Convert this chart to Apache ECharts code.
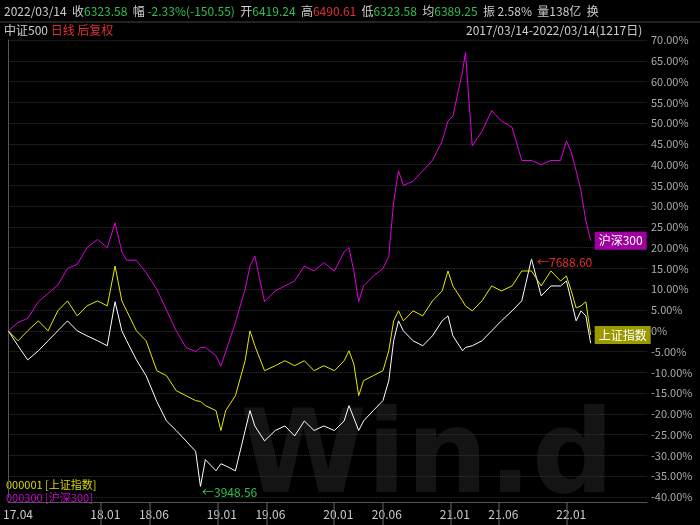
<!DOCTYPE html>
<html><head><meta charset="utf-8">
<script src="https://cdn.jsdelivr.net/npm/echarts@6/dist/echarts.min.js"></script>
<style>html,body{margin:0;padding:0;background:#000}#c{width:700px;height:525px}</style>
</head><body><div id="c"></div>
<script>
// months since 2017-03-14
const months = [0,1.0,2.0,3.1,4.1,5.1,6.1,7.1,8.1,9.2,10.2,11.0,11.7,12.2,13.2,14.2,15.3,16.3,17.3,18.3,19.3,19.8,20.3,21.4,21.9,22.4,23.4,24.4,24.9,25.4,26.4,27.5,28.5,29.5,30.5,31.5,32.5,33.6,34.6,35.1,35.6,36.1,36.6,37.6,38.6,39.2,39.7,40.2,40.7,41.7,42.7,43.7,44.7,45.3,45.8,46.8,47.1,47.8,48.8,49.8,50.8,51.9,52.9,53.9,54.9,55.9,56.9,57.5,58.0,58.5,59.0,59.5,60.0];
const hs300 = [0,2,3,7,9,11,15,16,20,22,20,26,19,17,17,14,10,5,0,-4,-5,-4,-4,-6,-8.5,-5,2,10,15.6,18,7,9.6,10.8,12,15.6,14.4,16.4,14.4,19,20,14.4,7,10.8,13.2,15,18,31,38.5,35,36,38.5,41,45.7,50.5,51.7,62.5,67,44.5,48,53,50.5,49,41,41,40,41,41,45.7,43,38.5,33.7,26.5,21.7];
const sh000001 = [0,-2.4,0,2.4,0,4.8,7.2,3.6,6,7.2,6,15.6,7.2,4.8,0,-2.4,-9.6,-10.8,-14.4,-15.6,-16.8,-17,-18,-19.2,-24,-19.2,-15.6,-7.2,0,-3.6,-9.6,-8.4,-7.2,-8.4,-7.2,-9.6,-8.4,-9.6,-7.2,-4.8,-8,-15.6,-12,-10.8,-9.6,-4.8,2.4,4.8,2.4,4.8,3.6,7.2,9.6,14.4,10.8,7.2,6,4.8,7.2,10.8,9.6,10.8,14.4,14.4,10.8,14.4,12,13.2,9.6,5.5,6,7,-1];
const zz500 = [0,-3.6,-7,-4.8,-2.4,0,2.4,0,-1.2,-2.4,-3.6,7,0,-2.4,-7,-10.8,-17,-21.7,-24,-26.5,-29,-37.5,-31,-33.7,-32,-32.5,-33.7,-24,-19.2,-22.9,-26.5,-24,-22.9,-25.3,-21.7,-24,-22.9,-24,-21.7,-18,-21,-24,-21.7,-19.2,-16.8,-12,-2.4,2.4,0,-2.4,-3.6,-1.2,2.4,3.6,-1.2,-4.8,-4,-3.6,-2.4,0,2.4,4.8,7.2,17.3,8.4,10.8,10.8,12,7.2,2.4,4.8,3.6,-3];
const tickMonths = [1,10,15,22,27,34,39,46,51,58];
const tickLabels = ['17.04','18.01','18.06','19.01','19.06','20.01','20.06','21.01','21.06','22.01'];
const lowIdx = 21, lowText = '3948.56', highIdx = 63, highText = '7688.60';

const pairs = a => months.map((m,i)=>[m,a[i]]);
const F = '"Noto Sans CJK SC", "DejaVu Sans", sans-serif';
const chart = echarts.init(document.getElementById('c'));
const graphics = [
  {type:'text',left:240,top:405,z:0,style:{text:'Win.d',fill:'#141414',font:'bold 115px "DejaVu Sans"'}},
  {type:'line',shape:{x1:0,y1:22,x2:700,y2:22},style:{stroke:'#444'}},
  {type:'text',left:4,top:5,style:{rich:{
    w:{fill:'#ccc',font:'12px '+F},g:{fill:'#2fbf4f',font:'12px '+F},r:{fill:'#e03030',font:'12px '+F}},
    text:'{w|2022/03/14  收}{g|6323.58}{w|  幅 }{g|-2.33%(-150.55)}{w|  开}{g|6419.24}{w|  高}{r|6490.61}{w|  低}{g|6323.58}{w|  均}{g|6389.25}{w|  振 2.58%  量138亿  换}'}},
  {type:'text',left:4,top:24,style:{rich:{w:{fill:'#ccc',font:'12px '+F},r:{fill:'#e03030',font:'12px '+F}},text:'{w|中证500 }{r|日线 后复权}'}},
  {type:'text',left:466,top:24,style:{text:'2017/03/14-2022/03/14(1217日)',fill:'#ccc',font:'12px '+F}},
  {type:'text',left:6,top:479,style:{text:'000001 [上证指数]',fill:'#d8d800',font:'11px '+F}},
  {type:'text',left:6,top:492,style:{text:'000300 [沪深300]',fill:'#d000d0',font:'11px '+F}}
];
const option = {
  backgroundColor:'#000',
  animation:false,
  grid:{left:0,right:53,top:40,bottom:28},
  xAxis:{type:'value',min:0,max:65.8,offset:5,
    axisLine:{show:true,onZero:false,lineStyle:{color:'#555'}},
    splitLine:{show:false},axisTick:{show:false},
    axisLabel:{customValues:tickMonths,color:'#ccc',fontFamily:F,fontSize:12,margin:6,
      formatter:v=>tickLabels[tickMonths.indexOf(v)]||''}},
  yAxis:{type:'value',position:'right',min:-40,max:70,interval:5,
    axisLine:{show:true,lineStyle:{color:'#555'}},axisTick:{show:false},
    axisLabel:{color:'#aaa',fontFamily:F,fontSize:11,margin:4,formatter:v=>v===0?'0%':v.toFixed(2)+'%'},
    splitLine:{lineStyle:{color:'#333',type:'dotted'}}},
  graphic:graphics,
  series:[
    {type:'line',data:pairs(zz500),symbol:'none',lineStyle:{color:'#fff',width:1},z:3,
      markPoint:{symbol:'circle',symbolSize:1,data:[
        {coord:[months[lowIdx],zz500[lowIdx]],label:{show:true,position:'right',formatter:'←'+lowText,color:'#2fbf4f',fontSize:12,fontFamily:F,offset:[-4,6]}},
        {coord:[months[highIdx],zz500[highIdx]],label:{show:true,position:'right',formatter:'←'+highText,color:'#e03030',fontSize:12,fontFamily:F,offset:[0,3]}}]}},
    {type:'line',data:pairs(sh000001),symbol:'none',lineStyle:{color:'#e8e800',width:1},z:4,
      endLabel:{show:true,formatter:'上证指数',color:'#fff',backgroundColor:'#9a9a00',padding:[3,4],fontFamily:F,fontSize:12,distance:4}},
    {type:'line',data:pairs(hs300),symbol:'none',lineStyle:{color:'#e000e0',width:1},z:4,
      endLabel:{show:true,formatter:'沪深300',color:'#fff',backgroundColor:'#a000a0',padding:[3,4],fontFamily:F,fontSize:12,distance:4}}
  ]
};
chart.setOption(option);
const seps = tickMonths.slice(1).map((m,i)=>{
  const x = Math.round(chart.convertToPixel({gridIndex:0}, [m-0.5,0])[0])+0.5;
  return {type:'rect',id:'sep'+i,z:100,shape:{x:x,y:502,width:1,height:23},style:{fill:'#666'}};
});
chart.setOption({graphic:seps});
</script></body></html>
